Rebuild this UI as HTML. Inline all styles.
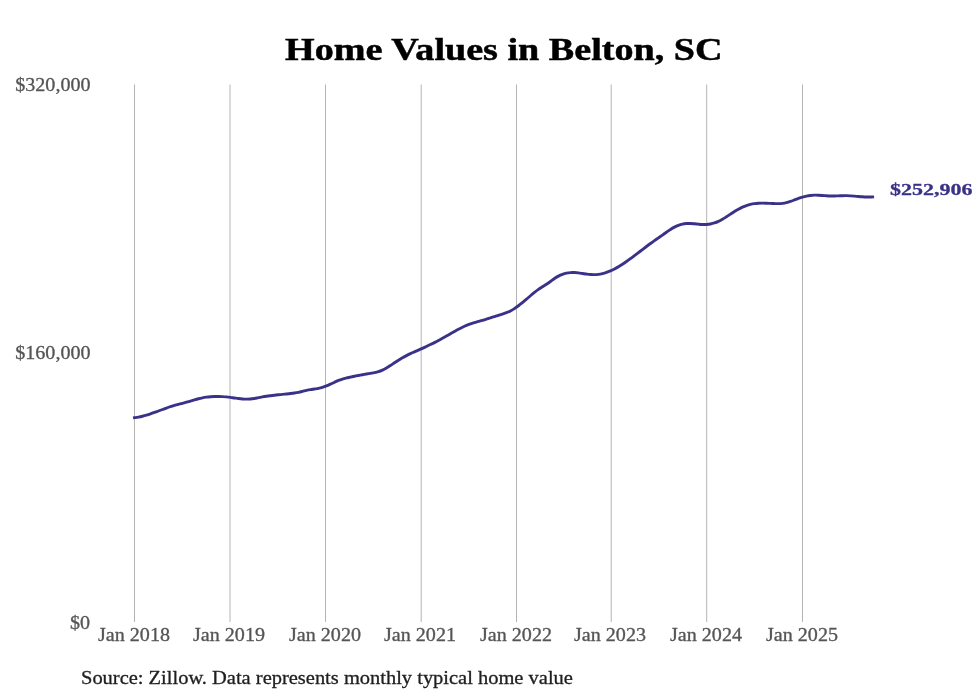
<!DOCTYPE html>
<html lang="en">
<head>
<meta charset="utf-8">
<title>Home Values in Belton, SC</title>
<style>
html,body{margin:0;padding:0;background:#ffffff;}
body{width:980px;height:699px;position:relative;overflow:hidden;font-family:"Liberation Serif",serif;}
#chart{position:absolute;left:0;top:0;width:980px;height:699px;}
.t{position:absolute;white-space:nowrap;line-height:1;will-change:transform;transform-origin:0 50%;font-family:"Liberation Serif",serif;}
.title{font-weight:bold;color:#000000;-webkit-text-stroke:0.5px #000000;}
.ytick,.xtick{color:#555555;-webkit-text-stroke:0.3px #555555;}
.src{color:#1f1f1f;-webkit-text-stroke:0.3px #1f1f1f;}
.end{font-weight:bold;color:#3a3288;-webkit-text-stroke:0.3px #3a3288;}
</style>
</head>
<body>
<svg id="chart" width="980" height="699" viewBox="0 0 980 699">
<g stroke="#b4b4b4" stroke-width="1" fill="none">
<line x1="134.50" y1="84.5" x2="134.50" y2="622.0"/>
<line x1="230.00" y1="84.5" x2="230.00" y2="622.0"/>
<line x1="325.50" y1="84.5" x2="325.50" y2="622.0"/>
<line x1="421.20" y1="84.5" x2="421.20" y2="622.0"/>
<line x1="516.50" y1="84.5" x2="516.50" y2="622.0"/>
<line x1="611.20" y1="84.5" x2="611.20" y2="622.0"/>
<line x1="706.70" y1="84.5" x2="706.70" y2="622.0"/>
<line x1="802.50" y1="84.5" x2="802.50" y2="622.0"/>
</g>
<path d="M134.45 417.67 C135.12 417.58 137.12 417.35 138.45 417.12 C139.78 416.88 141.12 416.59 142.45 416.26 C143.78 415.94 145.12 415.57 146.45 415.17 C147.78 414.77 149.12 414.34 150.45 413.89 C151.78 413.44 153.12 412.96 154.45 412.48 C155.78 412.00 157.12 411.50 158.45 411.00 C159.78 410.51 161.12 410.00 162.45 409.51 C163.78 409.02 165.12 408.52 166.45 408.06 C167.78 407.59 169.12 407.13 170.45 406.70 C171.78 406.27 173.12 405.87 174.45 405.48 C175.78 405.09 177.12 404.72 178.45 404.36 C179.78 403.99 181.12 403.64 182.45 403.28 C183.78 402.92 185.12 402.57 186.45 402.20 C187.78 401.83 189.12 401.45 190.45 401.07 C191.78 400.68 193.12 400.26 194.45 399.88 C195.78 399.49 197.12 399.10 198.45 398.76 C199.78 398.41 201.12 398.10 202.45 397.83 C203.78 397.56 205.12 397.34 206.45 397.15 C207.78 396.96 209.12 396.82 210.45 396.70 C211.78 396.59 213.12 396.52 214.45 396.47 C215.78 396.43 217.12 396.42 218.45 396.44 C219.78 396.46 221.12 396.51 222.45 396.59 C223.78 396.66 225.12 396.77 226.45 396.90 C227.78 397.03 229.12 397.19 230.45 397.36 C231.78 397.54 233.12 397.75 234.45 397.94 C235.78 398.13 237.12 398.34 238.45 398.51 C239.78 398.68 241.12 398.85 242.45 398.96 C243.78 399.07 245.12 399.16 246.45 399.17 C247.78 399.18 249.12 399.13 250.45 399.01 C251.78 398.89 253.12 398.67 254.45 398.45 C255.78 398.23 257.12 397.93 258.45 397.68 C259.78 397.42 261.12 397.16 262.45 396.92 C263.78 396.68 265.12 396.47 266.45 396.27 C267.78 396.06 269.12 395.88 270.45 395.70 C271.78 395.52 273.12 395.36 274.45 395.21 C275.78 395.05 277.12 394.91 278.45 394.77 C279.78 394.64 281.12 394.51 282.45 394.38 C283.78 394.25 285.12 394.13 286.45 393.99 C287.78 393.85 289.12 393.71 290.45 393.55 C291.78 393.38 293.12 393.21 294.45 393.00 C295.78 392.80 297.12 392.57 298.45 392.30 C299.78 392.04 301.12 391.72 302.45 391.41 C303.78 391.10 305.12 390.73 306.45 390.43 C307.78 390.13 309.12 389.84 310.45 389.60 C311.78 389.37 313.12 389.22 314.45 389.02 C315.78 388.82 317.12 388.67 318.45 388.40 C319.78 388.14 321.12 387.82 322.45 387.42 C323.78 387.01 325.12 386.50 326.45 385.96 C327.78 385.42 329.12 384.78 330.45 384.16 C331.78 383.54 333.12 382.86 334.45 382.24 C335.78 381.62 337.12 380.99 338.45 380.45 C339.78 379.91 341.12 379.44 342.45 379.02 C343.78 378.60 345.12 378.28 346.45 377.95 C347.78 377.63 349.12 377.36 350.45 377.08 C351.78 376.80 353.12 376.53 354.45 376.27 C355.78 376.00 357.12 375.74 358.45 375.49 C359.78 375.24 361.12 375.00 362.45 374.76 C363.78 374.52 365.12 374.28 366.45 374.05 C367.78 373.83 369.12 373.61 370.45 373.38 C371.78 373.15 373.12 372.96 374.45 372.68 C375.78 372.39 377.12 372.10 378.45 371.67 C379.78 371.25 381.12 370.72 382.45 370.11 C383.78 369.49 385.12 368.75 386.45 367.97 C387.78 367.20 389.12 366.33 390.45 365.47 C391.78 364.61 393.12 363.68 394.45 362.80 C395.78 361.92 397.12 361.00 398.45 360.16 C399.78 359.32 401.12 358.51 402.45 357.75 C403.78 356.99 405.12 356.29 406.45 355.61 C407.78 354.93 409.12 354.29 410.45 353.67 C411.78 353.04 413.12 352.45 414.45 351.85 C415.78 351.25 417.12 350.68 418.45 350.09 C419.78 349.49 421.12 348.91 422.45 348.31 C423.78 347.70 425.12 347.09 426.45 346.47 C427.78 345.85 429.12 345.22 430.45 344.57 C431.78 343.92 433.12 343.26 434.45 342.59 C435.78 341.91 437.12 341.22 438.45 340.51 C439.78 339.81 441.12 339.08 442.45 338.34 C443.78 337.60 445.12 336.84 446.45 336.08 C447.78 335.32 449.12 334.55 450.45 333.78 C451.78 333.02 453.12 332.25 454.45 331.50 C455.78 330.76 457.12 330.01 458.45 329.30 C459.78 328.59 461.12 327.89 462.45 327.24 C463.78 326.59 465.12 325.97 466.45 325.40 C467.78 324.83 469.12 324.31 470.45 323.83 C471.78 323.36 473.12 322.96 474.45 322.56 C475.78 322.16 477.12 321.81 478.45 321.43 C479.78 321.05 481.12 320.68 482.45 320.28 C483.78 319.89 485.12 319.48 486.45 319.06 C487.78 318.65 489.12 318.22 490.45 317.80 C491.78 317.38 493.12 316.95 494.45 316.53 C495.78 316.10 497.12 315.68 498.45 315.27 C499.78 314.86 501.12 314.48 502.45 314.05 C503.78 313.63 505.12 313.23 506.45 312.71 C507.78 312.20 509.12 311.65 510.45 310.96 C511.78 310.27 513.12 309.47 514.45 308.60 C515.78 307.73 517.12 306.75 518.45 305.74 C519.78 304.73 521.12 303.63 522.45 302.54 C523.78 301.44 525.12 300.28 526.45 299.15 C527.78 298.02 529.12 296.86 530.45 295.75 C531.78 294.63 533.12 293.52 534.45 292.47 C535.78 291.42 537.12 290.39 538.45 289.43 C539.78 288.48 541.12 287.60 542.45 286.73 C543.78 285.86 545.12 285.08 546.45 284.21 C547.78 283.33 549.12 282.44 550.45 281.50 C551.78 280.56 553.12 279.46 554.45 278.56 C555.78 277.66 557.12 276.81 558.45 276.10 C559.78 275.39 561.12 274.80 562.45 274.31 C563.78 273.82 565.12 273.44 566.45 273.15 C567.78 272.87 569.12 272.69 570.45 272.60 C571.78 272.50 573.12 272.52 574.45 272.57 C575.78 272.62 577.12 272.76 578.45 272.91 C579.78 273.06 581.12 273.27 582.45 273.46 C583.78 273.65 585.12 273.88 586.45 274.05 C587.78 274.22 589.12 274.40 590.45 274.50 C591.78 274.61 593.12 274.68 594.45 274.66 C595.78 274.63 597.12 274.54 598.45 274.36 C599.78 274.19 601.12 273.93 602.45 273.61 C603.78 273.28 605.12 272.88 606.45 272.43 C607.78 271.97 609.12 271.44 610.45 270.87 C611.78 270.29 613.12 269.65 614.45 268.96 C615.78 268.27 617.12 267.53 618.45 266.74 C619.78 265.96 621.12 265.13 622.45 264.26 C623.78 263.40 625.12 262.49 626.45 261.56 C627.78 260.63 629.12 259.66 630.45 258.68 C631.78 257.70 633.12 256.69 634.45 255.68 C635.78 254.67 637.12 253.64 638.45 252.62 C639.78 251.59 641.12 250.56 642.45 249.54 C643.78 248.51 645.12 247.49 646.45 246.49 C647.78 245.49 649.12 244.50 650.45 243.53 C651.78 242.56 653.12 241.62 654.45 240.68 C655.78 239.74 657.12 238.82 658.45 237.88 C659.78 236.95 661.12 236.03 662.45 235.08 C663.78 234.13 665.12 233.15 666.45 232.21 C667.78 231.26 669.12 230.27 670.45 229.42 C671.78 228.57 673.12 227.78 674.45 227.09 C675.78 226.41 677.12 225.81 678.45 225.31 C679.78 224.81 681.12 224.41 682.45 224.11 C683.78 223.81 685.12 223.63 686.45 223.52 C687.78 223.42 689.12 223.44 690.45 223.48 C691.78 223.52 693.12 223.65 694.45 223.77 C695.78 223.89 697.12 224.06 698.45 224.18 C699.78 224.31 701.12 224.45 702.45 224.50 C703.78 224.55 705.12 224.58 706.45 224.50 C707.78 224.41 709.12 224.25 710.45 223.99 C711.78 223.74 713.12 223.39 714.45 222.95 C715.78 222.51 717.12 221.98 718.45 221.37 C719.78 220.75 721.12 220.03 722.45 219.27 C723.78 218.50 725.12 217.63 726.45 216.78 C727.78 215.92 729.12 214.99 730.45 214.12 C731.78 213.24 733.12 212.34 734.45 211.52 C735.78 210.69 737.12 209.90 738.45 209.18 C739.78 208.46 741.12 207.78 742.45 207.18 C743.78 206.58 745.12 206.04 746.45 205.58 C747.78 205.11 749.12 204.71 750.45 204.39 C751.78 204.07 753.12 203.83 754.45 203.64 C755.78 203.45 757.12 203.34 758.45 203.26 C759.78 203.17 761.12 203.15 762.45 203.14 C763.78 203.14 765.12 203.18 766.45 203.22 C767.78 203.26 769.12 203.34 770.45 203.40 C771.78 203.45 773.12 203.54 774.45 203.57 C775.78 203.60 777.12 203.64 778.45 203.60 C779.78 203.55 781.12 203.49 782.45 203.32 C783.78 203.15 785.12 202.91 786.45 202.59 C787.78 202.27 789.12 201.85 790.45 201.41 C791.78 200.97 793.12 200.46 794.45 199.97 C795.78 199.48 797.12 198.96 798.45 198.49 C799.78 198.03 801.12 197.58 802.45 197.19 C803.78 196.80 805.12 196.46 806.45 196.17 C807.78 195.89 809.12 195.65 810.45 195.48 C811.78 195.31 813.12 195.20 814.45 195.15 C815.78 195.10 817.12 195.14 818.45 195.19 C819.78 195.25 821.12 195.37 822.45 195.48 C823.78 195.58 825.12 195.73 826.45 195.82 C827.78 195.91 829.12 196.00 830.45 196.04 C831.78 196.07 833.12 196.04 834.45 196.01 C835.78 195.98 837.12 195.90 838.45 195.85 C839.78 195.80 841.12 195.72 842.45 195.69 C843.78 195.66 845.12 195.65 846.45 195.67 C847.78 195.70 849.12 195.77 850.45 195.85 C851.78 195.93 853.12 196.04 854.45 196.15 C855.78 196.26 857.12 196.39 858.45 196.50 C859.78 196.61 861.12 196.72 862.45 196.81 C863.78 196.89 865.12 196.97 866.45 197.01 C867.78 197.04 869.42 197.03 870.45 197.02 C871.48 197.00 872.28 196.93 872.65 196.91" fill="none" stroke="#3a3288" stroke-width="2.9" stroke-linecap="square" stroke-linejoin="round"/>
</svg>
<div class="t title" style="left:285.40px;top:33.08px;font-size:32.50px;transform:scaleX(1.1735);">Home Values in Belton, SC</div>
<div class="t ytick" style="right:889.80px;top:75.52px;font-size:18.00px;transform:scaleX(1.1150);transform-origin:100% 50%">$320,000</div>
<div class="t ytick" style="right:889.80px;top:344.03px;font-size:18.00px;transform:scaleX(1.1150);transform-origin:100% 50%">$160,000</div>
<div class="t ytick" style="right:889.80px;top:613.52px;font-size:18.00px;transform:scaleX(1.1150);transform-origin:100% 50%">$0</div>
<div class="t xtick" style="left:133.70px;top:625.92px;font-size:18.00px;transform:translateX(-50%) scaleX(1.1150);transform-origin:50% 50%">Jan 2018</div>
<div class="t xtick" style="left:229.20px;top:625.92px;font-size:18.00px;transform:translateX(-50%) scaleX(1.1150);transform-origin:50% 50%">Jan 2019</div>
<div class="t xtick" style="left:324.70px;top:625.92px;font-size:18.00px;transform:translateX(-50%) scaleX(1.1150);transform-origin:50% 50%">Jan 2020</div>
<div class="t xtick" style="left:420.40px;top:625.92px;font-size:18.00px;transform:translateX(-50%) scaleX(1.1150);transform-origin:50% 50%">Jan 2021</div>
<div class="t xtick" style="left:515.70px;top:625.92px;font-size:18.00px;transform:translateX(-50%) scaleX(1.1150);transform-origin:50% 50%">Jan 2022</div>
<div class="t xtick" style="left:610.40px;top:625.92px;font-size:18.00px;transform:translateX(-50%) scaleX(1.1150);transform-origin:50% 50%">Jan 2023</div>
<div class="t xtick" style="left:705.90px;top:625.92px;font-size:18.00px;transform:translateX(-50%) scaleX(1.1150);transform-origin:50% 50%">Jan 2024</div>
<div class="t xtick" style="left:801.70px;top:625.92px;font-size:18.00px;transform:translateX(-50%) scaleX(1.1150);transform-origin:50% 50%">Jan 2025</div>
<div class="t src" style="left:80.90px;top:668.81px;font-size:18.50px;transform:scaleX(1.1060);">Source: Zillow. Data represents monthly typical home value</div>
<div class="t end" style="left:889.60px;top:181.26px;font-size:17.60px;transform:scaleX(1.2500);">$252,906</div>
</body>
</html>
